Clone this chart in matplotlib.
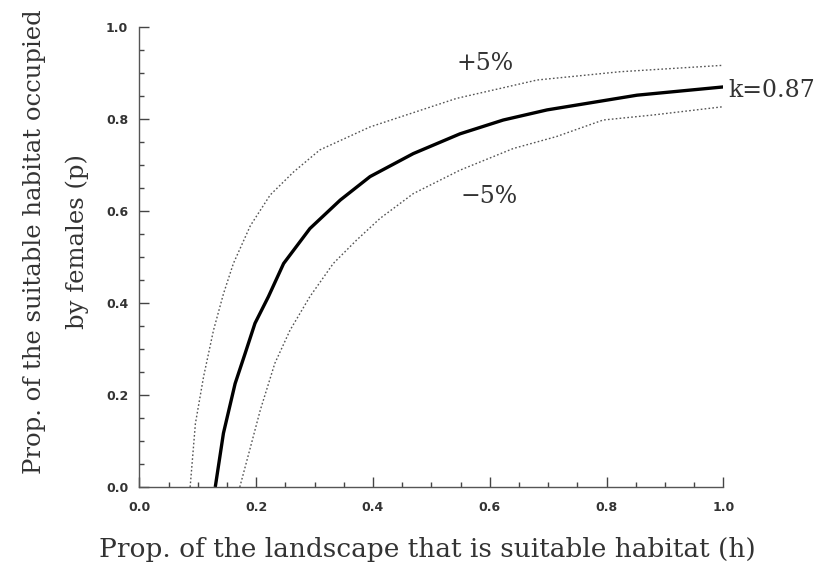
import matplotlib
matplotlib.use("Agg")
import matplotlib.pyplot as plt
from matplotlib.ticker import MultipleLocator

# values
h_mid = [0.130, 0.144, 0.164, 0.181, 0.198, 0.221, 0.247, 0.292, 0.344, 0.395, 0.469,
         0.549, 0.623, 0.698, 0.852, 1.0]
p_mid = [0.0, 0.117, 0.225, 0.290, 0.356, 0.414, 0.486, 0.562, 0.624, 0.675, 0.725,
         0.768, 0.798, 0.820, 0.852, 0.870]

h_up = [0.087, 0.096, 0.110, 0.127, 0.144, 0.161, 0.190, 0.224, 0.264, 0.309, 0.395,
        0.543, 0.681, 0.823, 1.0]
p_up = [0.0, 0.138, 0.240, 0.341, 0.420, 0.486, 0.568, 0.635, 0.685, 0.733, 0.783,
        0.845, 0.885, 0.903, 0.917]

h_low = [0.172, 0.192, 0.207, 0.232, 0.258, 0.292, 0.332, 0.372, 0.412, 0.469, 0.549,
         0.640, 0.714, 0.794, 0.880, 1.0]
p_low = [0.0, 0.095, 0.167, 0.269, 0.341, 0.414, 0.486, 0.537, 0.584, 0.638, 0.689,
         0.736, 0.762, 0.798, 0.809, 0.827]

tick_vals = [0.0, 0.2, 0.4, 0.6, 0.8, 1.0]
tick_labels = ["0.0", "0.2", "0.4", "0.6", "0.8", "1.0"]

serif = "DejaVu Serif"
txt_col = "#333333"

fig = plt.figure(figsize=(8.21, 5.65), dpi=100)
ax = fig.add_axes([0.1697, 0.138, 0.7115, 0.814])

ax.plot(h_mid, p_mid, color="black", lw=2.4, solid_capstyle="butt", solid_joinstyle="round")
ax.plot(h_up, p_up, color="#555555", lw=1.0, ls=(0, (1.2, 1.6)))
ax.plot(h_low, p_low, color="#555555", lw=1.0, ls=(0, (1.2, 1.6)))

ax.text(0.592, 0.921, "+5%", fontsize=17, family=serif, color=txt_col, ha="center", va="center")
ax.text(0.598, 0.631, "\u22125%", fontsize=17, family=serif, color=txt_col, ha="center", va="center")
ax.text(1.008, 0.863, "k=0.87", fontsize=17, family=serif, color=txt_col, ha="left", va="center",
        clip_on=False)

ax.set_xlim(0, 1)
ax.set_ylim(0, 1)
ax.set_xticks(tick_vals)
ax.set_xticklabels(tick_labels)
ax.set_yticks(tick_vals)
ax.set_yticklabels(tick_labels)
ax.xaxis.set_minor_locator(MultipleLocator(0.05))
ax.yaxis.set_minor_locator(MultipleLocator(0.05))
ax.tick_params(which="major", direction="in", length=7, width=1, color="#444444")
ax.tick_params(which="minor", direction="in", length=3.5, width=1, color="#444444")
ax.tick_params(axis="x", which="major", pad=10)
ax.tick_params(axis="y", which="major", pad=8)
for lab in ax.get_xticklabels() + ax.get_yticklabels():
    lab.set_fontsize(9)
    lab.set_fontweight("bold")
    lab.set_color(txt_col)

ax.spines["top"].set_visible(False)
ax.spines["right"].set_visible(False)
for s in ["left", "bottom"]:
    ax.spines[s].set_color("#555555")
    ax.spines[s].set_linewidth(1.0)

fig.text(427.5 / 821, 1 - 550 / 565, "Prop. of the landscape that is suitable habitat (h)",
         fontsize=19, family=serif, color=txt_col, ha="center", va="center")
fig.text(56 / 821, 1 - 242 / 565, "Prop. of the suitable habitat occupied\nby females (p)",
         fontsize=17.5, family=serif, color=txt_col, ha="center", va="center",
         rotation=90, multialignment="center", linespacing=2.0)

fig.savefig("out.png", dpi=100)
